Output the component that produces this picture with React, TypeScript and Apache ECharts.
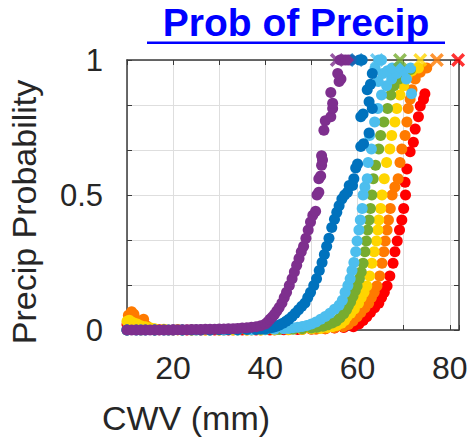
import React, { useEffect, useRef } from "react";
import * as echarts from "echarts";

// [CWV (mm), probability] samples
const purplePts: [number, number][] = [
  [10,0],[11,0],[12,0],[13,0],[14,0],[15,0],[16,0],[17,0],[18,0],[19,0],[20,0.001],[21,0.001],[22,0.001],[23,0.001],[24,0.002],[25,0.002],[26,0.002],[27,0.003],[28,0.003],[29,0.003],[30,0.004],[31,0.004],[32,0.005],[33,0.005],[34,0.006],[35,0.007],[36,0.008],[37,0.01],[38,0.012],[39,0.016],[40,0.022],[40.5,0.03],[41,0.04],[41.5,0.048],[42,0.058],[42.5,0.07],[43,0.083],[43.6,0.1],[44.1,0.12],[44.6,0.14],[45.2,0.165],[45.8,0.19],[46.3,0.215],[46.8,0.24],[47.3,0.265],[47.8,0.29],[48.3,0.31],[48.8,0.34],[49.3,0.37],[49.8,0.4],[50.3,0.425],[50.9,0.44],[51.2,0.5],[51.6,0.51],[51.6,0.56],[52,0.57],[52.2,0.61],[52.4,0.63],[52.2,0.645],[52.7,0.74],[53,0.775],[54.2,0.79],[54.6,0.82],[54.6,0.84],[54.2,0.88],[56,0.92],[56.4,0.93],[55.7,0.95],[56.2,1],[56.8,1],[57.4,1],[58,1],[58.6,1]
];
const bluePts: [number, number][] = [
  [10,0],[12,0],[14,0],[16,0],[18,0],[20,0],[22,0],[24,0],[26,0],[28,0],[30,0.001],[32,0.001],[34,0.001],[36,0.002],[38,0.002],[39,0.003],[40,0.004],[41,0.007],[41.7,0.01],[42.4,0.014],[43.1,0.019],[43.8,0.025],[44.5,0.032],[45.1,0.04],[45.8,0.05],[46.5,0.062],[47.2,0.075],[47.9,0.088],[48.6,0.1],[49.2,0.12],[49.8,0.14],[50.5,0.165],[51.1,0.19],[51.7,0.22],[52.3,0.25],[52.8,0.28],[53.3,0.31],[53.8,0.34],[54.4,0.38],[55,0.41],[55.5,0.436],[56,0.46],[56.6,0.485],[57.2,0.5],[57.8,0.51],[58.2,0.535],[58.9,0.535],[59.2,0.56],[59.6,0.6],[60,0.615],[60.7,0.68],[61.3,0.69],[62.5,0.73],[60.7,0.79],[61.2,0.8],[63.2,0.82],[62.5,0.845],[62.1,0.89],[62.8,0.91],[63.2,0.95],[60.4,1],[61,1]
];
const lightBluePts: [number, number][] = [
  [10,0],[13,0],[16,0],[19,0],[22,0],[25,0],[28,0],[31,0],[34,0],[37,0.001],[40,0.002],[42,0.003],[44,0.005],[45,0.006],[46,0.008],[47,0.01],[48,0.013],[49,0.017],[50,0.022],[51,0.03],[52,0.04],[53,0.05],[54,0.062],[55,0.077],[56,0.092],[56.7,0.11],[57.3,0.14],[57.9,0.165],[58.4,0.19],[58.8,0.22],[59.2,0.25],[59.6,0.29],[59.9,0.33],[60.3,0.37],[60.6,0.407],[61,0.45],[61.2,0.5],[61.6,0.53],[62.1,0.56],[62.3,0.62],[63,0.67],[62.6,0.72],[63.7,0.77],[64.4,0.82],[65.2,0.87],[66.3,0.905],[67.4,0.93],[68.5,0.95],[70,0.96],[71.5,0.97],[71.7,0.875],[70.6,0.93],[64.5,0.92],[65.5,0.95],[66.5,0.96],[67.5,0.97],[69,0.975],[63.8,0.97],[64.6,1],[65.2,1]
];
const greenPts: [number, number][] = [
  [10,0],[13,0],[16,0],[19,0],[22,0],[25,0],[28,0],[31,0],[34,0],[37,0],[40,0.001],[43,0.002],[46,0.003],[48,0.005],[50,0.007],[51.2,0.01],[52.5,0.014],[53.5,0.019],[54.5,0.026],[55.4,0.033],[56.2,0.045],[57,0.06],[57.6,0.075],[58,0.09],[58.5,0.105],[59,0.125],[59.5,0.145],[59.9,0.163],[60.4,0.19],[60.8,0.215],[61.2,0.247],[61.6,0.29],[61.9,0.33],[62.2,0.37],[62.5,0.407],[62.8,0.45],[63.1,0.5],[63.4,0.56],[63.9,0.61],[64.6,0.67],[65,0.72],[65.7,0.77],[66.5,0.82],[67.2,0.87],[67.9,0.905],[69,0.93],[70.1,0.955],[71.5,0.965]
];
const yellowPts: [number, number][] = [
  [10,0.032],[10.5,0.036],[11,0.03],[11.5,0.026],[12.2,0.022],[13,0.016],[14,0.012],[15,0.008],[16,0.005],[18,0.003],[21,0.001],[24,0],[27,0],[30,0],[33,0],[36,0],[39,0],[42,0.001],[45,0.002],[48,0.003],[50,0.004],[52,0.006],[53.5,0.009],[54.5,0.012],[55.5,0.017],[56.5,0.025],[57.2,0.035],[57.7,0.049],[58.5,0.062],[59.3,0.078],[60.2,0.099],[60.8,0.12],[61.4,0.14],[62,0.163],[62.6,0.2],[63.1,0.247],[63.6,0.29],[64.1,0.33],[64.4,0.37],[64.6,0.407],[65,0.45],[65.3,0.5],[65.8,0.56],[66.3,0.62],[67,0.67],[67.4,0.72],[68.1,0.77],[68.5,0.82],[69.2,0.87],[70,0.905],[70.7,0.94],[71.8,0.96],[73.2,0.97]
];
const orangePts: [number, number][] = [
  [10.3,0.055],[11,0.068],[11.5,0.058],[12.3,0.035],[13.6,0.04],[14.3,0.015],[15,0.006],[16,0.003],[18,0.002],[21,0.001],[24,0],[27,0],[30,0],[33,0],[36,0],[39,0],[42,0],[45,0.001],[48,0.002],[51,0.003],[53,0.005],[55,0.008],[56.9,0.012],[58,0.02],[59,0.033],[59.9,0.049],[60.7,0.065],[61.6,0.082],[62.4,0.099],[63,0.12],[63.6,0.14],[64.2,0.163],[64.8,0.2],[65.3,0.247],[65.7,0.29],[66,0.33],[66.4,0.37],[66.7,0.407],[67.1,0.45],[67.5,0.5],[68.1,0.53],[68.8,0.56],[69.2,0.62],[69.6,0.67],[70.3,0.72],[70.7,0.77],[71,0.82],[71.4,0.855],[71.8,0.89],[72.5,0.93],[73.6,0.955],[75,0.97]
];
const redPts: [number, number][] = [
  [10,0.02],[11,0.012],[12,0.006],[14,0.003],[17,0.001],[20,0],[23,0],[26,0],[29,0],[32,0],[35,0],[38,0],[41,0],[44,0.001],[47,0.002],[50,0.003],[53,0.005],[55,0.007],[57,0.009],[59.1,0.012],[60.3,0.022],[61.2,0.035],[62,0.049],[62.8,0.065],[63.7,0.082],[64.6,0.099],[65.2,0.12],[65.8,0.14],[66.4,0.163],[67,0.2],[67.7,0.247],[68.1,0.29],[68.6,0.33],[69.1,0.37],[69.6,0.407],[70,0.45],[70.4,0.5],[70.3,0.547],[70.7,0.596],[71.4,0.66],[72.1,0.695],[72.5,0.744],[73.2,0.79],[73.6,0.83],[74.3,0.855],[74.6,0.875]
];

// CWV where each curve's "x" marker sits at probability 1 (purple → red)
const xMarkCWV = [55.5, 59.8, 64.2, 69.2, 73.6, 77.2, 81.8];
const xMarkProb = [1, 1, 1, 1, 1, 1, 1];

const seriesNames = ["purple", "blue", "lightblue", "green", "yellow", "orange", "red"];
const seriesColors = ["#7E2F8E", "#0072BD", "#4DBEEE", "#77AC30", "#FFD500", "#FF7A00", "#FF0000"];
const seriesData = [purplePts, bluePts, lightBluePts, greenPts, yellowPts, orangePts, redPts];

const xTickLabels = ["20", "40", "60", "80"];
const yTickLabels = ["0", "0.5", "1"];

const TITLE = "Prob of Precip";
const X_NAME = "CWV (mm)";
const Y_NAME = "Precip Probability";

const FONT = "'Liberation Sans', Arial, Helvetica, sans-serif";
const TEXT_COLOR = "#262626";
const AXIS_COLOR = "#3a3a3a";
const GRID_COLOR = "#dedede";

const X_SYMBOL = "path://M0,1.8L1.8,0L5,3.2L8.2,0L10,1.8L6.8,5L10,8.2L8.2,10L5,6.8L1.8,10L0,8.2L3.2,5Z";

export default function App() {
  const ref = useRef<HTMLDivElement>(null);
  useEffect(() => {
    if (!ref.current) return;
    const chart = echarts.init(ref.current, null, { renderer: "svg" });

    const scatterSeries: any[] = [];
    // draw red first, purple last (on top)
    for (let i = seriesData.length - 1; i >= 0; i--) {
      scatterSeries.push({
        type: "scatter",
        name: seriesNames[i],
        data: seriesData[i],
        symbol: "circle",
        symbolSize: 11,
        clip: false,
        itemStyle: { color: seriesColors[i], opacity: 1 },
        emphasis: { disabled: true },
        xAxisIndex: 0,
        yAxisIndex: 0,
        z: 3,
      });
    }
    scatterSeries.push({
      type: "scatter",
      name: "limit",
      data: xMarkCWV.map((x, i) => ({
        value: [x, xMarkProb[i]],
        itemStyle: { color: seriesColors[i] },
      })),
      symbol: X_SYMBOL,
      symbolSize: 14,
      clip: false,
      emphasis: { disabled: true },
      xAxisIndex: 0,
      yAxisIndex: 0,
      z: 4,
    });

    const xFmt = (v: number) => {
      const s = String(Math.round(v));
      return xTickLabels.includes(s) && Math.abs(v - Math.round(v)) < 1e-6 ? s : "";
    };
    const yFmt = (v: number) => {
      for (const t of yTickLabels) {
        if (Math.abs(v - parseFloat(t)) < 0.01) return t;
      }
      return "";
    };

    const option: any = {
      animation: false,
      backgroundColor: "#ffffff",
      textStyle: { fontFamily: FONT },
      grid: { left: 127, right: 12, top: 60, bottom: 110, containLabel: false },
      xAxis: [
        {
          type: "value",
          position: "bottom",
          min: 10,
          max: 82,
          interval: 10,
          axisLine: { show: true, onZero: false, lineStyle: { color: AXIS_COLOR, width: 1.5 } },
          axisTick: { show: true, inside: true, length: 5, lineStyle: { color: AXIS_COLOR, width: 1 } },
          axisLabel: {
            show: true,
            formatter: xFmt,
            fontSize: 32,
            color: TEXT_COLOR,
            fontFamily: FONT,
            margin: 22,
            showMinLabel: true,
            showMaxLabel: true,
          },
          splitLine: { show: true, lineStyle: { color: GRID_COLOR, width: 1 } },
        },
        {
          type: "value",
          position: "top",
          min: 10,
          max: 82,
          interval: 10,
          axisLine: { show: true, onZero: false, lineStyle: { color: AXIS_COLOR, width: 1.5 } },
          axisTick: { show: true, inside: true, length: 5, lineStyle: { color: AXIS_COLOR, width: 1 } },
          axisLabel: { show: false },
          splitLine: { show: false },
        },
      ],
      yAxis: [
        {
          type: "value",
          position: "left",
          min: 0,
          max: 1,
          interval: 1 / 6,
          axisLine: { show: true, onZero: false, lineStyle: { color: AXIS_COLOR, width: 1.5 } },
          axisTick: { show: true, inside: true, length: 5, lineStyle: { color: AXIS_COLOR, width: 1 } },
          axisLabel: {
            show: true,
            formatter: yFmt,
            fontSize: 31,
            color: TEXT_COLOR,
            fontFamily: FONT,
            margin: 24,
            showMinLabel: true,
            showMaxLabel: true,
          },
          splitLine: { show: true, lineStyle: { color: GRID_COLOR, width: 1 } },
        },
        {
          type: "value",
          position: "right",
          min: 0,
          max: 1,
          interval: 1 / 6,
          axisLine: { show: true, onZero: false, lineStyle: { color: AXIS_COLOR, width: 1.5 } },
          axisTick: { show: true, inside: true, length: 5, lineStyle: { color: AXIS_COLOR, width: 1 } },
          axisLabel: { show: false },
          splitLine: { show: false },
        },
      ],
      series: scatterSeries,
      graphic: [
        {
          type: "text",
          x: 296,
          y: 22,
          style: {
            text: TITLE,
            fontSize: 39,
            lineHeight: 39,
            fontWeight: "bold",
            fontFamily: FONT,
            fill: "#0000ff",
            align: "center",
            verticalAlign: "middle",
          },
        },
        {
          type: "rect",
          shape: { x: 147, y: 41.5, width: 298, height: 2.5 },
          style: { fill: "#0000ff" },
        },
        {
          type: "text",
          x: 186,
          y: 418,
          style: {
            text: X_NAME,
            fontSize: 34,
            fontFamily: FONT,
            fill: TEXT_COLOR,
            align: "center",
            verticalAlign: "middle",
          },
        },
        {
          type: "text",
          x: 24,
          y: 212,
          rotation: Math.PI / 2,
          style: {
            text: Y_NAME,
            fontSize: 34,
            fontFamily: FONT,
            fill: TEXT_COLOR,
            align: "center",
            verticalAlign: "middle",
          },
        },
      ],
    };

    chart.setOption(option);
    return () => chart.dispose();
  }, []);

  return (
    <div
      ref={ref}
      style={{ position: "fixed", left: 0, top: 0, width: 471, height: 440, background: "#ffffff" }}
    />
  );
}
